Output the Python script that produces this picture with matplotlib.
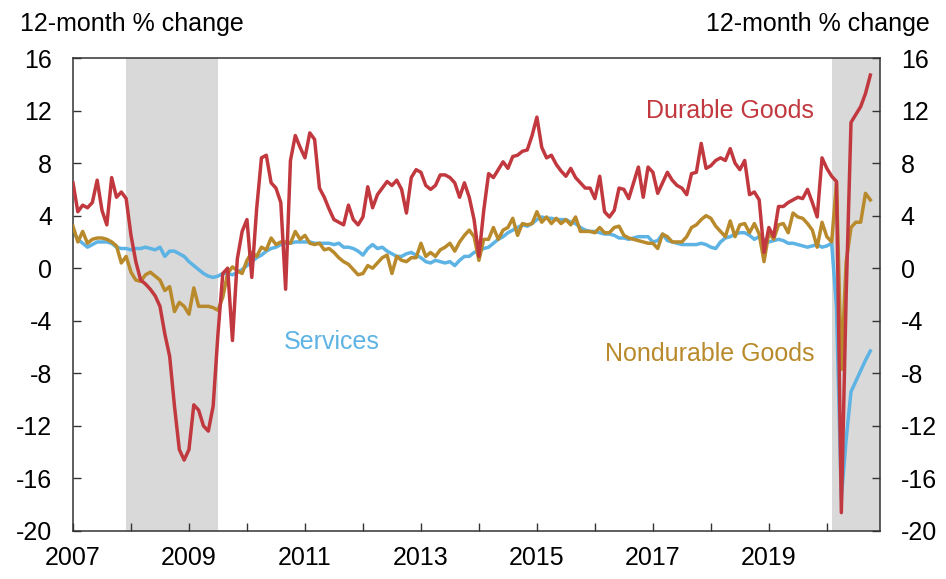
import numpy as np
import matplotlib
matplotlib.use("Agg")
import matplotlib.pyplot as plt

plt.rcParams['font.family'] = ['Liberation Sans', 'DejaVu Sans']
plt.rcParams['axes.unicode_minus'] = False

# monthly 12-month % change, Jan 2007 - Oct 2020
durable = [
    6.5, 4.3, 4.8, 4.6, 5.0, 6.7, 4.4, 3.3, 6.9, 5.4, 5.8, 5.3,            # 2007
    2.5, 0.5, -0.9, -1.2, -1.6, -2.1, -2.9, -5.0, -6.7, -10.5, -13.8, -14.6,  # 2008
    -13.8, -10.4, -10.8, -12.0, -12.4, -10.5, -5.0, -0.4, 0.0, -5.5, 0.7, 2.8,  # 2009
    3.7, -0.7, 4.5, 8.4, 8.6, 6.5, 6.1, 5.0, -1.6, 8.2, 10.1, 9.2,         # 2010
    8.4, 10.3, 9.8, 6.1, 5.4, 4.5, 3.7, 3.5, 3.3, 4.8, 3.7, 3.3,           # 2011
    3.9, 6.2, 4.6, 5.6, 6.1, 6.6, 6.3, 6.7, 6.0, 4.2, 6.9, 7.5,            # 2012
    7.3, 6.3, 6.0, 6.3, 7.1, 7.1, 6.9, 6.5, 5.4, 6.5, 5.4, 3.7,            # 2013
    0.9, 4.4, 7.2, 6.9, 7.5, 8.1, 7.6, 8.5, 8.6, 8.9, 9.0, 10.1,           # 2014
    11.5, 9.2, 8.4, 8.6, 7.9, 7.4, 7.0, 7.6, 6.9, 6.5, 6.1, 6.1,           # 2015
    5.3, 7.0, 4.3, 3.9, 4.4, 6.1, 6.0, 5.3, 6.5, 7.7, 5.4, 7.7,            # 2016
    7.3, 5.7, 6.5, 7.3, 6.7, 6.3, 6.1, 5.6, 7.2, 7.3, 9.5, 7.6,            # 2017
    7.8, 8.2, 8.4, 8.2, 9.1, 8.0, 7.5, 8.2, 5.6, 5.8, 5.2, 1.2,            # 2018
    3.1, 2.4, 4.7, 4.7, 5.0, 5.2, 5.4, 5.3, 6.0, 5.0, 3.9, 8.4,            # 2019
    7.6, 7.0, 6.6, -18.6, -2.0, 11.1, 11.7, 12.3, 13.3, 14.7,              # 2020
]
services = [
    2.8, 2.2, 1.9, 1.6, 1.8, 2.0, 2.0, 2.0, 1.9, 1.6, 1.5, 1.5,
    1.4, 1.5, 1.5, 1.6, 1.5, 1.4, 1.6, 0.9, 1.3, 1.3, 1.1, 0.9,
    0.5, 0.2, -0.1, -0.4, -0.6, -0.7, -0.6, -0.4, -0.4, -0.5, -0.3, -0.1,
    0.2, 0.5, 0.8, 1.0, 1.3, 1.5, 1.6, 1.8, 1.9, 1.9, 2.0, 2.0,
    2.0, 2.0, 1.9, 1.9, 1.9, 1.9, 1.8, 1.9, 1.6, 1.6, 1.5, 1.3,
    1.0, 1.5, 1.8, 1.5, 1.6, 1.3, 1.1, 0.9, 0.9, 1.1, 1.2, 1.0,
    0.8, 0.5, 0.4, 0.6, 0.5, 0.4, 0.5, 0.2, 0.6, 0.9, 0.9, 1.2,
    1.3, 1.5, 1.6, 1.9, 2.2, 2.4, 2.7, 2.9, 3.1, 3.3, 3.2, 3.4,
    3.7, 3.9, 3.8, 3.8, 3.7, 3.7, 3.7, 3.5, 3.4, 3.1, 2.9, 2.8,
    2.8, 2.7, 2.6, 2.6, 2.5, 2.3, 2.3, 2.2, 2.3, 2.4, 2.4, 2.4,
    2.0, 2.1, 2.6, 2.1, 2.0, 1.9, 1.8, 1.8, 1.8, 1.8, 1.9, 1.8,
    1.6, 1.5, 2.0, 2.3, 2.4, 2.6, 2.7, 2.7, 2.5, 2.2, 2.4, 2.2,
    2.0, 2.1, 2.2, 2.1, 1.9, 1.9, 1.8, 1.7, 1.6, 1.7, 1.8, 1.6,
    1.7, 1.9, -3.0, -17.5, -13.0, -9.4, -8.6, -7.8, -7.0, -6.3,
]
nondurable = [
    3.2, 2.0, 2.8, 1.9, 2.2, 2.3, 2.3, 2.2, 2.0, 1.7, 0.4, 0.9,
    -0.3, -0.9, -1.0, -0.5, -0.3, -0.6, -0.9, -1.7, -1.4, -3.3, -2.6, -2.9,
    -3.5, -1.5, -2.9, -2.9, -2.9, -3.0, -3.2, -2.2, -0.4, 0.1, -0.2, -0.4,
    0.6, 1.2, 0.9, 1.6, 1.4, 2.3, 1.8, 2.0, 2.0, 1.9, 2.8, 2.2,
    2.5, 1.9, 1.8, 1.9, 1.4, 1.5, 1.2, 0.8, 0.5, 0.3, -0.1, -0.5,
    -0.4, 0.2, 0.0, 0.4, 0.8, 1.0, -0.4, 0.9, 0.6, 0.5, 0.8, 0.8,
    1.9, 0.9, 1.2, 0.9, 1.4, 1.6, 1.9, 1.3, 2.0, 2.5, 2.9, 2.4,
    0.6, 2.2, 2.2, 3.1, 2.2, 2.9, 3.1, 3.8, 2.5, 3.4, 3.3, 3.4,
    4.3, 3.5, 3.9, 3.4, 3.8, 3.4, 3.7, 3.3, 3.9, 2.8, 2.8, 2.8,
    2.7, 3.1, 2.7, 2.7, 3.1, 3.2, 2.5, 2.3, 2.2, 2.1, 2.0, 1.9,
    1.9, 1.5, 2.6, 2.4, 2.0, 2.0, 2.0, 2.4, 3.1, 3.3, 3.7, 4.0,
    3.8, 3.2, 2.8, 2.4, 3.6, 2.4, 3.3, 3.4, 2.7, 3.4, 2.6, 0.5,
    2.7, 2.2, 3.3, 3.4, 2.7, 4.2, 3.9, 3.8, 3.4, 2.9, 1.6, 3.5,
    2.4, 2.0, 6.5, -7.7, 0.5, 3.1, 3.5, 3.5, 5.7, 5.2,
]
recessions = [(2007 + 11 / 12, 2009.5), (2020 + 1 / 12, 2021.0)]
year_ticks = list(range(2007, 2021))

RED = '#c1393f'
BLUE = '#5db3e4'
GOLD = '#b98a2c'
SHADE = '#d9d9d9'
FS = 18

t = 2007 + np.arange(len(durable)) / 12

fig = plt.figure(figsize=(9.46, 5.79), dpi=100)
ax = fig.add_axes([73 / 946, 1 - 531 / 579, (880 - 73) / 946, (531 - 58) / 579])

for start, end in recessions:
    ax.axvspan(start, end, color=SHADE, lw=0, zorder=0)

ax.plot(t, services, color=BLUE, lw=2.5, zorder=2)
ax.plot(t, nondurable, color=GOLD, lw=2.5, zorder=3)
ax.plot(t, durable, color=RED, lw=2.5, zorder=4)

ax.set_xlim(2007, 2007 + 167 / 12)
ax.set_ylim(-20, 16)
ax.set_yticks(np.arange(-20, 17, 4))
ax.set_xticks(year_ticks)
ax.set_xticklabels([str(y) if (y - 2007) % 2 == 0 else '' for y in year_ticks])

ax.tick_params(direction='in', length=6, width=1, labelsize=FS, color='#333333')
ax.tick_params(axis='y', right=True, labelright=True, pad=15)
ax.tick_params(axis='x', pad=11)
for s in ax.spines.values():
    s.set_linewidth(1.1)
    s.set_color('#333333')

ax.text(2018.33, 12.0, 'Durable Goods', color=RED, ha='center', va='center', fontsize=FS)
ax.text(2011.47, -5.6, 'Services', color=BLUE, ha='center', va='center', fontsize=FS)
ax.text(2017.98, -6.5, 'Nondurable Goods', color=GOLD, ha='center', va='center', fontsize=FS)

fig.text(20 / 946, 1 - 31 / 579, '12-month % change', ha='left', va='baseline', fontsize=FS)
fig.text(930 / 946, 1 - 31 / 579, '12-month % change', ha='right', va='baseline', fontsize=FS)

fig.savefig('out.png', dpi=100)
